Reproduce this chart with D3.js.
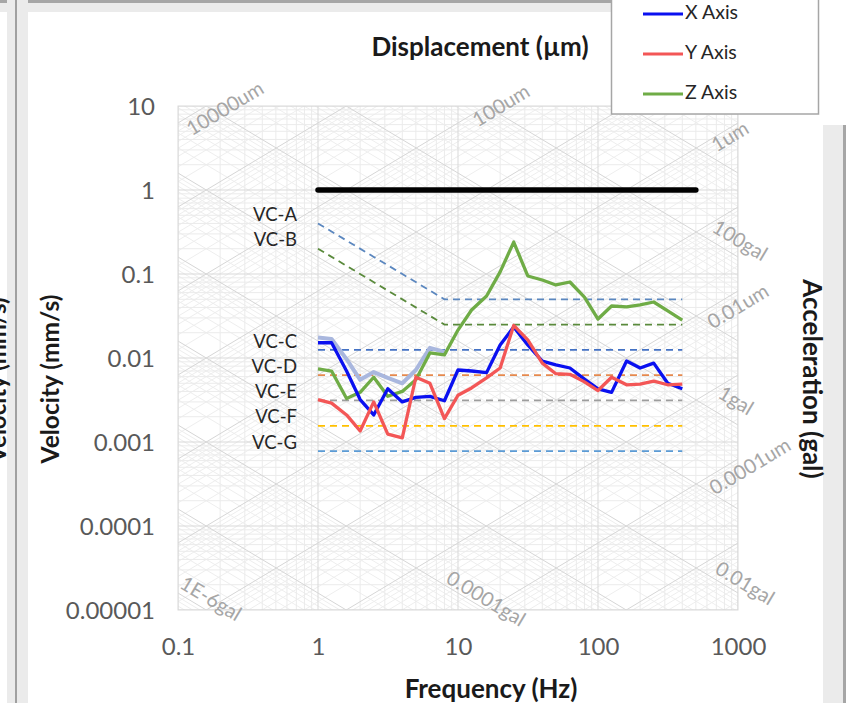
<!DOCTYPE html>
<html><head><meta charset="utf-8">
<script src="https://cdn.jsdelivr.net/npm/d3@7"></script>
<style>body{margin:0;background:#fff}svg{display:block}</style>
</head><body><svg id="c" width="846" height="703"></svg>
<script>
// ---------- data ----------
const freqs = [1,1.25,1.6,2,2.5,3.15,4,5,6.3,8,10,12.5,16,20,25,31.5,40,50,63,80,100,125,160,200,250,315,400];
const xAxisVals = [0.0152,0.0152,0.0070,0.0032,0.0021,0.0043,0.0030,0.0034,0.0035,0.0031,0.0072,0.0070,0.0067,0.0143,0.0234,0.0143,0.0092,0.0083,0.0076,0.0056,0.0043,0.0039,0.0092,0.0076,0.0087,0.0050,0.0043];
const yAxisVals = [0.0032,0.0029,0.0021,0.00135,0.0030,0.00124,0.00112,0.0059,0.0050,0.0019,0.0036,0.0044,0.0058,0.0076,0.0244,0.0164,0.0087,0.0065,0.0064,0.0052,0.0041,0.0059,0.0048,0.0049,0.0053,0.0048,0.0049];
const zAxisVals = [0.0074,0.0070,0.0033,0.0039,0.0059,0.0035,0.0040,0.0055,0.0115,0.0109,0.0215,0.0373,0.0547,0.106,0.240,0.0947,0.0848,0.0740,0.0803,0.0532,0.0291,0.0416,0.0405,0.0428,0.0464,0.0363,0.0283];
const refFreqs = [1,1.25,1.6,2,2.5,3.15,4,5,6.3,8];
const refVals = [0.0175,0.0168,0.0097,0.0055,0.0068,0.0058,0.0050,0.0072,0.0132,0.0118];

const seriesNames = ["X Axis","Y Axis","Z Axis"];
const seriesColors = ["#0a10f0","#f35656","#6fac46"];

const xTicks = [0.1,1,10,100,1000];
const xTickLabels = ["0.1","1","10","100","1000"];
const yTicks = [10,1,0.1,0.01,0.001,0.0001,0.00001];
const yTickLabels = ["10","1","0.1","0.01","0.001","0.0001","0.00001"];

const vcNames = ["VC-A","VC-B","VC-C","VC-D","VC-E","VC-F","VC-G"];
const vcLevels = [0.05,0.025,0.0125,0.00625,0.003125,0.00156,0.00078];
const vcKnees = [8,8,null,null,null,null,null];
const vcColors = ["#5b87bf","#5a8a3c","#4472c4","#e6894d","#9d9d9d","#ffc000","#5b9bd5"];
const vcRange = [1,400];

const limitLevel = 1;
const limitRange = [1,500];

const dispLabels = ["10000um","100um","1um","0.01um","0.0001um"];
const dispLabelF = [0.22,20.6,891,1016,1238];
const dispLabelV = [8.96,9.73,4.16,0.0394,0.00049];
const accLabels = ["1E-6gal","0.0001gal","0.01gal","1gal","100gal"];
const accLabelF = [0.169,15.6,1104,952,1016];
const accLabelV = [1.31e-5,1.31e-5,1.99e-5,0.00299,0.24];

// ---------- setup ----------
const svg = d3.select("#c");
const FONT = "Lato, 'Open Sans', sans-serif";
const x = d3.scaleLog().domain([0.1,1000]).range([178,738]);
const y = d3.scaleLog().domain([1e-5,10]).range([610,106]);
const [x0,x1] = x.range(), [y0,y1] = [y.range()[1], y.range()[0]];

// window chrome
svg.append("rect").attr("x",0).attr("y",0).attr("width",846).attr("height",703).attr("fill","#fff");
svg.append("rect").attr("x",0).attr("y",0).attr("width",846).attr("height",12).attr("fill","#ebebeb");
svg.append("rect").attr("x",0).attr("y",0).attr("width",846).attr("height",3).attr("fill","#a6a6a6");
svg.append("rect").attr("x",0).attr("y",12).attr("width",7).attr("height",691).attr("fill","#fff");
svg.append("rect").attr("x",7).attr("y",0).attr("width",21).attr("height",703).attr("fill","#ebebeb");
svg.append("rect").attr("x",15).attr("y",0).attr("width",2).attr("height",703).attr("fill","#a0a0a0");
svg.append("rect").attr("x",823).attr("y",125).attr("width",23).attr("height",578).attr("fill","#ebebeb");
svg.append("rect").attr("x",843).attr("y",125).attr("width",3).attr("height",578).attr("fill","#a6a6a6");
svg.append("rect").attr("x",818).attr("y",0).attr("width",28).attr("height",125).attr("fill","#fff");

// cut-off neighbour label on far left
svg.append("text").attr("transform","translate(6,380) rotate(-90)")
  .attr("text-anchor","middle").attr("font-family",FONT).attr("font-weight","bold")
  .attr("font-size",24).attr("fill","#1a1a1a").text("Velocity (mm/s)");

// ---------- grid ----------
svg.append("clipPath").attr("id","pc").append("rect")
  .attr("x",x0).attr("y",y0).attr("width",x1-x0).attr("height",y1-y0);
const grid = svg.append("g").attr("clip-path","url(#pc)");

function minorVals(lo, hi){ const out=[]; for(let e=lo;e<hi;e++){ for(let m=2;m<=9;m++) out.push(m*Math.pow(10,e)); } return out; }
const majorOf = (lo,hi)=>d3.range(lo,hi+1).map(e=>Math.pow(10,e));

const fLine = [0.05,2000];
const lineGen = d3.line().x(d=>x(d[0])).y(d=>y(d[1]));
minorVals(-7,5).forEach(d=>{
  grid.append("path").attr("d",lineGen(fLine.map(f=>[f,2*Math.PI*f*d/1000]))).attr("stroke","#eeeeee").attr("stroke-width",1).attr("fill","none");
});
minorVals(-8,5).forEach(a=>{
  grid.append("path").attr("d",lineGen(fLine.map(f=>[f,a*10/(2*Math.PI*f)]))).attr("stroke","#eeeeee").attr("stroke-width",1).attr("fill","none");
});
minorVals(-1,3).forEach(f=>grid.append("line").attr("x1",x(f)).attr("x2",x(f)).attr("y1",y0).attr("y2",y1).attr("stroke","#ebebeb"));
minorVals(-5,1).forEach(v=>grid.append("line").attr("y1",y(v)).attr("y2",y(v)).attr("x1",x0).attr("x2",x1).attr("stroke","#ebebeb"));
majorOf(-7,5).forEach(d=>{
  grid.append("path").attr("d",lineGen(fLine.map(f=>[f,2*Math.PI*f*d/1000]))).attr("stroke","#d6d6d6").attr("stroke-width",1).attr("fill","none");
});
majorOf(-8,5).forEach(a=>{
  grid.append("path").attr("d",lineGen(fLine.map(f=>[f,a*10/(2*Math.PI*f)]))).attr("stroke","#d6d6d6").attr("stroke-width",1).attr("fill","none");
});
xTicks.forEach(f=>grid.append("line").attr("x1",x(f)).attr("x2",x(f)).attr("y1",y0).attr("y2",y1).attr("stroke","#d9d9d9"));
yTicks.forEach(v=>grid.append("line").attr("y1",y(v)).attr("y2",y(v)).attr("x1",x0).attr("x2",x1).attr("stroke","#d9d9d9"));
svg.append("rect").attr("x",x0).attr("y",y0).attr("width",x1-x0).attr("height",y1-y0).attr("fill","none").attr("stroke","#d9d9d9");

// diagonal labels
const ang = Math.atan2(y(1)-y(10), x(10)-x(1))*180/Math.PI;
dispLabels.forEach((t,i)=>{
  svg.append("text").attr("transform",`translate(${x(dispLabelF[i])},${y(dispLabelV[i])}) rotate(${-ang})`)
    .attr("text-anchor","middle").attr("dominant-baseline","middle").attr("font-family",FONT)
    .attr("font-size",20).attr("fill","#a6a6a6").text(t);
});
accLabels.forEach((t,i)=>{
  svg.append("text").attr("transform",`translate(${x(accLabelF[i])},${y(accLabelV[i])}) rotate(${ang})`)
    .attr("text-anchor","middle").attr("dominant-baseline","middle").attr("font-family",FONT)
    .attr("font-size",20).attr("fill","#a6a6a6").text(t);
});

// ---------- axes ----------
const xAx = d3.axisBottom(x).tickValues(xTicks).tickFormat((d,i)=>xTickLabels[i]).tickSize(0).tickPadding(0);
const gx = svg.append("g").attr("transform",`translate(0,${y1+28})`).call(xAx);
gx.select(".domain").remove();
gx.selectAll("text").attr("font-family",FONT).attr("font-size",24).attr("fill","#595959").attr("dy","0.71em");
const yAx = d3.axisLeft(y).tickValues(yTicks).tickFormat((d,i)=>yTickLabels[i]).tickSize(0).tickPadding(0);
const gy = svg.append("g").attr("transform",`translate(${x0-23},0)`).call(yAx);
gy.select(".domain").remove();
gy.selectAll("text").attr("font-family",FONT).attr("font-size",24).attr("fill","#595959").attr("dy","0.34em");

// titles
svg.append("text").attr("x",480).attr("y",56).attr("text-anchor","middle").attr("font-family",FONT)
  .attr("font-weight","bold").attr("font-size",26).attr("fill","#1a1a1a").text("Displacement (µm)");
svg.append("text").attr("x",491).attr("y",698).attr("text-anchor","middle").attr("font-family",FONT)
  .attr("font-weight","bold").attr("font-size",26).attr("fill","#1a1a1a").text("Frequency (Hz)");
svg.append("text").attr("transform","translate(59,379) rotate(-90)").attr("text-anchor","middle").attr("font-family",FONT)
  .attr("font-weight","bold").attr("font-size",24.5).attr("fill","#1a1a1a").text("Velocity (mm/s)");
svg.append("text").attr("transform","translate(803,379) rotate(90)").attr("text-anchor","middle").attr("font-family",FONT)
  .attr("font-weight","bold").attr("font-size",26).attr("fill","#1a1a1a").text("Acceleration (gal)");

// ---------- criteria ----------
const plot = svg.append("g").attr("clip-path","url(#pc)");
vcNames.forEach((n,i)=>{
  const lv = vcLevels[i], k = vcKnees[i];
  const pts = k ? [[vcRange[0], lv*k/vcRange[0]],[k,lv],[vcRange[1],lv]] : [[vcRange[0],lv],[vcRange[1],lv]];
  plot.append("path").attr("d",lineGen(pts)).attr("fill","none").attr("stroke",vcColors[i])
    .attr("stroke-width",1.8).attr("stroke-dasharray","7,5");
  svg.append("text").attr("x",x(vcRange[0])-21).attr("y",y(pts[0][1])-7).attr("text-anchor","end")
    .attr("dominant-baseline","middle").attr("font-family",FONT).attr("font-size",18.5).attr("fill","#262626").text(n);
});
plot.append("path").attr("d",lineGen(limitRange.map(f=>[f,limitLevel]))).attr("stroke","#000")
  .attr("stroke-width",5.5).attr("stroke-linecap","round").attr("fill","none");

// ---------- series ----------
plot.append("path").attr("d",lineGen(refFreqs.map((f,i)=>[f,refVals[i]]))).attr("fill","none")
  .attr("stroke","#a9b7de").attr("stroke-width",4).attr("stroke-linejoin","round");
[zAxisVals,xAxisVals,yAxisVals].forEach((vals,j)=>{
  const idx = [2,0,1][j];
  plot.append("path").attr("d",lineGen(freqs.map((f,i)=>[f,vals[i]]))).attr("fill","none")
    .attr("stroke",seriesColors[idx]).attr("stroke-width",3.3).attr("stroke-linejoin","round");
});

// ---------- legend ----------
const lg = svg.append("g");
lg.append("rect").attr("x",611.5).attr("y",-2).attr("width",207).attr("height",116).attr("fill","#fff").attr("stroke","#a6a6a6").attr("stroke-width",1.5);
seriesNames.forEach((n,i)=>{
  const yy = 14 + i*40;
  lg.append("line").attr("x1",643).attr("x2",683).attr("y1",yy).attr("y2",yy).attr("stroke",seriesColors[i]).attr("stroke-width",3);
  lg.append("text").attr("x",685).attr("y",yy).attr("dominant-baseline","middle").attr("font-family",FONT)
    .attr("font-size",19.5).attr("fill","#262626").text(n);
});
</script></body></html>
